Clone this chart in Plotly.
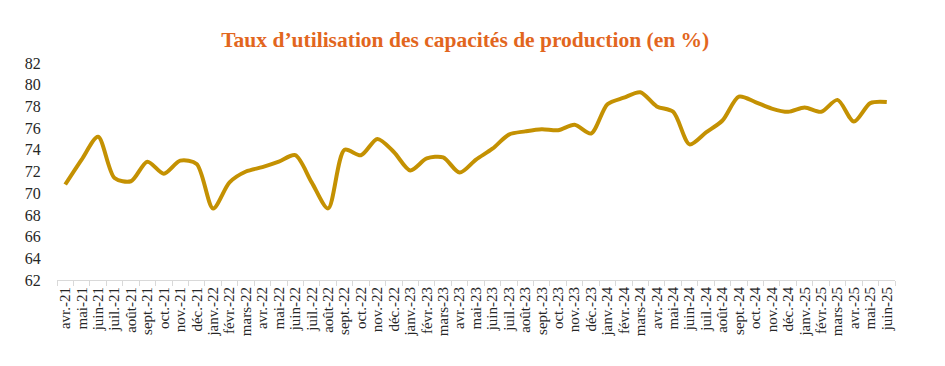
import plotly.graph_objects as go

months = ["avr.-21", "mai-21", "juin-21", "juil.-21", "août-21", "sept.-21", "oct.-21", "nov.-21", "déc.-21",
          "janv.-22", "févr.-22", "mars-22", "avr.-22", "mai-22", "juin-22", "juil.-22", "août-22", "sept.-22",
          "oct.-22", "nov.-22", "déc.-22",
          "janv.-23", "févr.-23", "mars-23", "avr.-23", "mai-23", "juin-23", "juil.-23", "août-23", "sept.-23",
          "oct.-23", "nov.-23", "déc.-23",
          "janv.-24", "févr.-24", "mars-24", "avr.-24", "mai-24", "juin-24", "juil.-24", "août-24", "sept.-24",
          "oct.-24", "nov.-24", "déc.-24",
          "janv.-25", "févr.-25", "mars-25", "avr.-25", "mai-25", "juin-25"]

taux = [70.8, 73.1, 75.2, 71.4, 71.1, 72.9, 71.8, 73.0, 72.7,
        68.6, 71.0, 72.0, 72.4, 72.9, 73.5, 71.0, 68.6, 74.0,
        73.5, 75.0, 73.8,
        72.1, 73.2, 73.3, 71.9, 73.1, 74.1, 75.4, 75.7, 75.9,
        75.8, 76.3, 75.5,
        78.2, 78.8, 79.3, 78.0, 77.5, 74.5, 75.6, 76.7, 78.9,
        78.4, 77.8, 77.5,
        77.9, 77.5, 78.6, 76.6, 78.3, 78.4]

y_ticks = list(range(62, 83, 2))

fig = go.Figure()
fig.add_trace(go.Scatter(
    x=months, y=taux, mode="lines",
    line=dict(color="#C49102", width=4, shape="spline", smoothing=0.8),
    hoverinfo="x+y",
))

serif = "Liberation Serif, Times New Roman, serif"

# page body has an 8px default margin: figure sized/positioned to compensate
fig.update_layout(
    width=937, height=358,
    margin=dict(l=49, r=50, t=55, b=86),
    paper_bgcolor="white", plot_bgcolor="white",
    showlegend=False,
    title=dict(
        text="<b>Taux d’utilisation des capacités de production (en %)</b>",
        x=0.488, xanchor="center", y=0.912, yanchor="middle",
        font=dict(family=serif, size=21.5, color="#E2661E"),
    ),
    xaxis=dict(
        type="category",
        tickmode="array", tickvals=months, ticktext=months,
        tickangle=-90,
        tickfont=dict(family=serif, size=15, color="#262626"),
        showgrid=False, zeroline=False,
        showline=True, linecolor="#D9D9D9", linewidth=1,
        ticks="outside", tickson="boundaries", ticklen=5, tickcolor="#D9D9D9",
        range=[-0.5, len(months) - 0.5],
        automargin=False,
    ),
    yaxis=dict(
        range=[62, 82],
        tickvals=y_ticks,
        tickfont=dict(family=serif, size=16, color="#262626"),
        showgrid=False, zeroline=False, showline=False,
        ticks="outside", ticklen=12, tickcolor="rgba(0,0,0,0)",
        automargin=False,
    ),
)

fig.write_html("out.html")
